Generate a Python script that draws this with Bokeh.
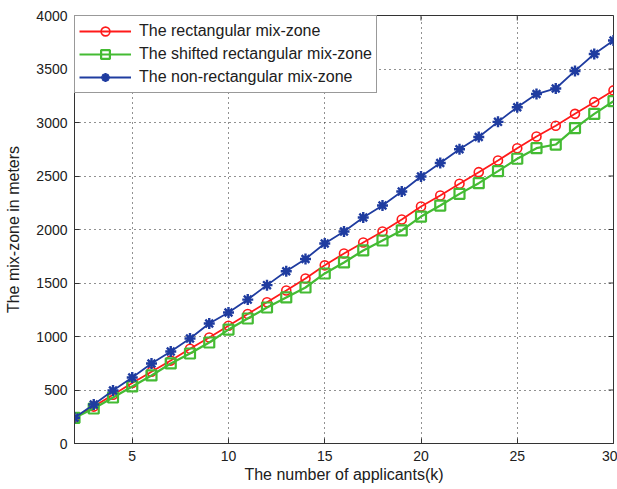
import math
from bokeh.plotting import figure
from bokeh.models import Range1d, Legend, LegendItem, FixedTicker
from bokeh.embed import file_html
from bokeh.resources import INLINE

k = list(range(2, 31))
rect = [240, 345, 455, 565, 670, 775, 885, 990, 1100, 1210, 1320, 1430, 1542, 1665,
        1776, 1879, 1981, 2093, 2215, 2318, 2427, 2536, 2645, 2760, 2869, 2969, 3081,
        3190, 3300]
shifted = [240, 327, 430, 533, 636, 748, 841, 944, 1065, 1168, 1271, 1365, 1458, 1589,
           1692, 1804, 1897, 1991, 2121, 2224, 2333, 2433, 2545, 2661, 2760, 2794, 2947,
           3081, 3199]
nonrect = [240, 364, 495, 617, 748, 860, 981, 1121, 1224, 1345, 1480, 1610, 1725, 1869,
           1981, 2112, 2224, 2355, 2495, 2622, 2750, 2865, 3006, 3143, 3266, 3318, 3482,
           3640, 3766]
x_ticks = [5, 10, 15, 20, 25, 30]
y_ticks = list(range(0, 4001, 500))
labels = ["The rectangular mix-zone", "The shifted rectangular mix-zone",
          "The non-rectangular mix-zone"]

FONT = "Liberation Sans"
TXT = "#202020"
AX = "#333333"

p = figure(width=617, height=489, output_backend="svg", toolbar_location=None,
           x_range=Range1d(2, 30), y_range=Range1d(0, 4000),
           min_border_left=74, min_border_right=4, min_border_top=15, min_border_bottom=46,
           background_fill_color="white", border_fill_color="white")
p.outline_line_color = AX
p.outline_line_width = 1

p.xaxis.ticker = FixedTicker(ticks=x_ticks)
p.yaxis.ticker = FixedTicker(ticks=y_ticks)
for ax in (p.xaxis[0], p.yaxis[0]):
    ax.major_tick_in = 5
    ax.major_tick_out = 0
    ax.minor_tick_line_color = None
    ax.axis_line_color = AX
    ax.major_tick_line_color = AX
    ax.major_label_text_font = FONT
    ax.major_label_text_font_size = "14px"
    ax.major_label_text_color = TXT
    ax.axis_label_text_font = FONT
    ax.axis_label_text_font_size = "16px"
    ax.axis_label_text_font_style = "normal"
    ax.axis_label_text_color = TXT
p.xaxis.axis_label = "The number of applicants(k)"
p.yaxis.axis_label = "The mix-zone in meters"
p.xaxis.major_label_standoff = 7
p.xaxis.axis_label_standoff = 2
p.yaxis.major_label_standoff = 7
p.yaxis.axis_label_standoff = 11

# inward ticks on the top and right borders (MATLAB box style)
p.ray(x=x_ticks, y=[4000] * len(x_ticks), length=5, length_units="screen",
      angle=-math.pi / 2, line_color=AX, line_width=1)
p.ray(x=[30] * len(y_ticks), y=y_ticks, length=5, length_units="screen",
      angle=math.pi, line_color=AX, line_width=1)

for g in (p.xgrid[0], p.ygrid[0]):
    g.grid_line_color = "#222222"
    g.grid_line_dash = "1 4"
    g.grid_line_width = 1
p.xgrid.ticker = FixedTicker(ticks=x_ticks)
p.ygrid.ticker = FixedTicker(ticks=y_ticks)

RED = "#ff1a1a"
GREEN = "#44bb33"
BLUE = "#1f3ca0"

l1 = p.line(k, rect, line_color=RED, line_width=1.8)
s1 = p.scatter(k, rect, marker="circle", size=9, line_color=RED, line_width=1.6,
               fill_color=None)
l2 = p.line(k, shifted, line_color=GREEN, line_width=2.2)
s2 = p.scatter(k, shifted, marker="square", size=10, line_color=GREEN, line_width=2.2,
               fill_color=None)
l3 = p.line(k, nonrect, line_color=BLUE, line_width=1.8)
s3 = p.scatter(k, nonrect, marker="asterisk", size=11, line_color=BLUE, line_width=2.4)

legend = Legend(items=[LegendItem(label=labels[0], renderers=[l1, s1]),
                       LegendItem(label=labels[1], renderers=[l2, s2]),
                       LegendItem(label=labels[2], renderers=[l3, s3])],
                location="top_left", margin=0, padding=4, spacing=1,
                glyph_width=52, glyph_height=22, label_height=22, label_standoff=8,
                label_text_font=FONT, label_text_font_size="16px",
                label_text_color=TXT, border_line_color=AX,
                border_line_width=1, background_fill_color="white",
                background_fill_alpha=1.0)
p.add_layout(legend, "center")

open("out.html", "w").write(file_html(p, INLINE))
